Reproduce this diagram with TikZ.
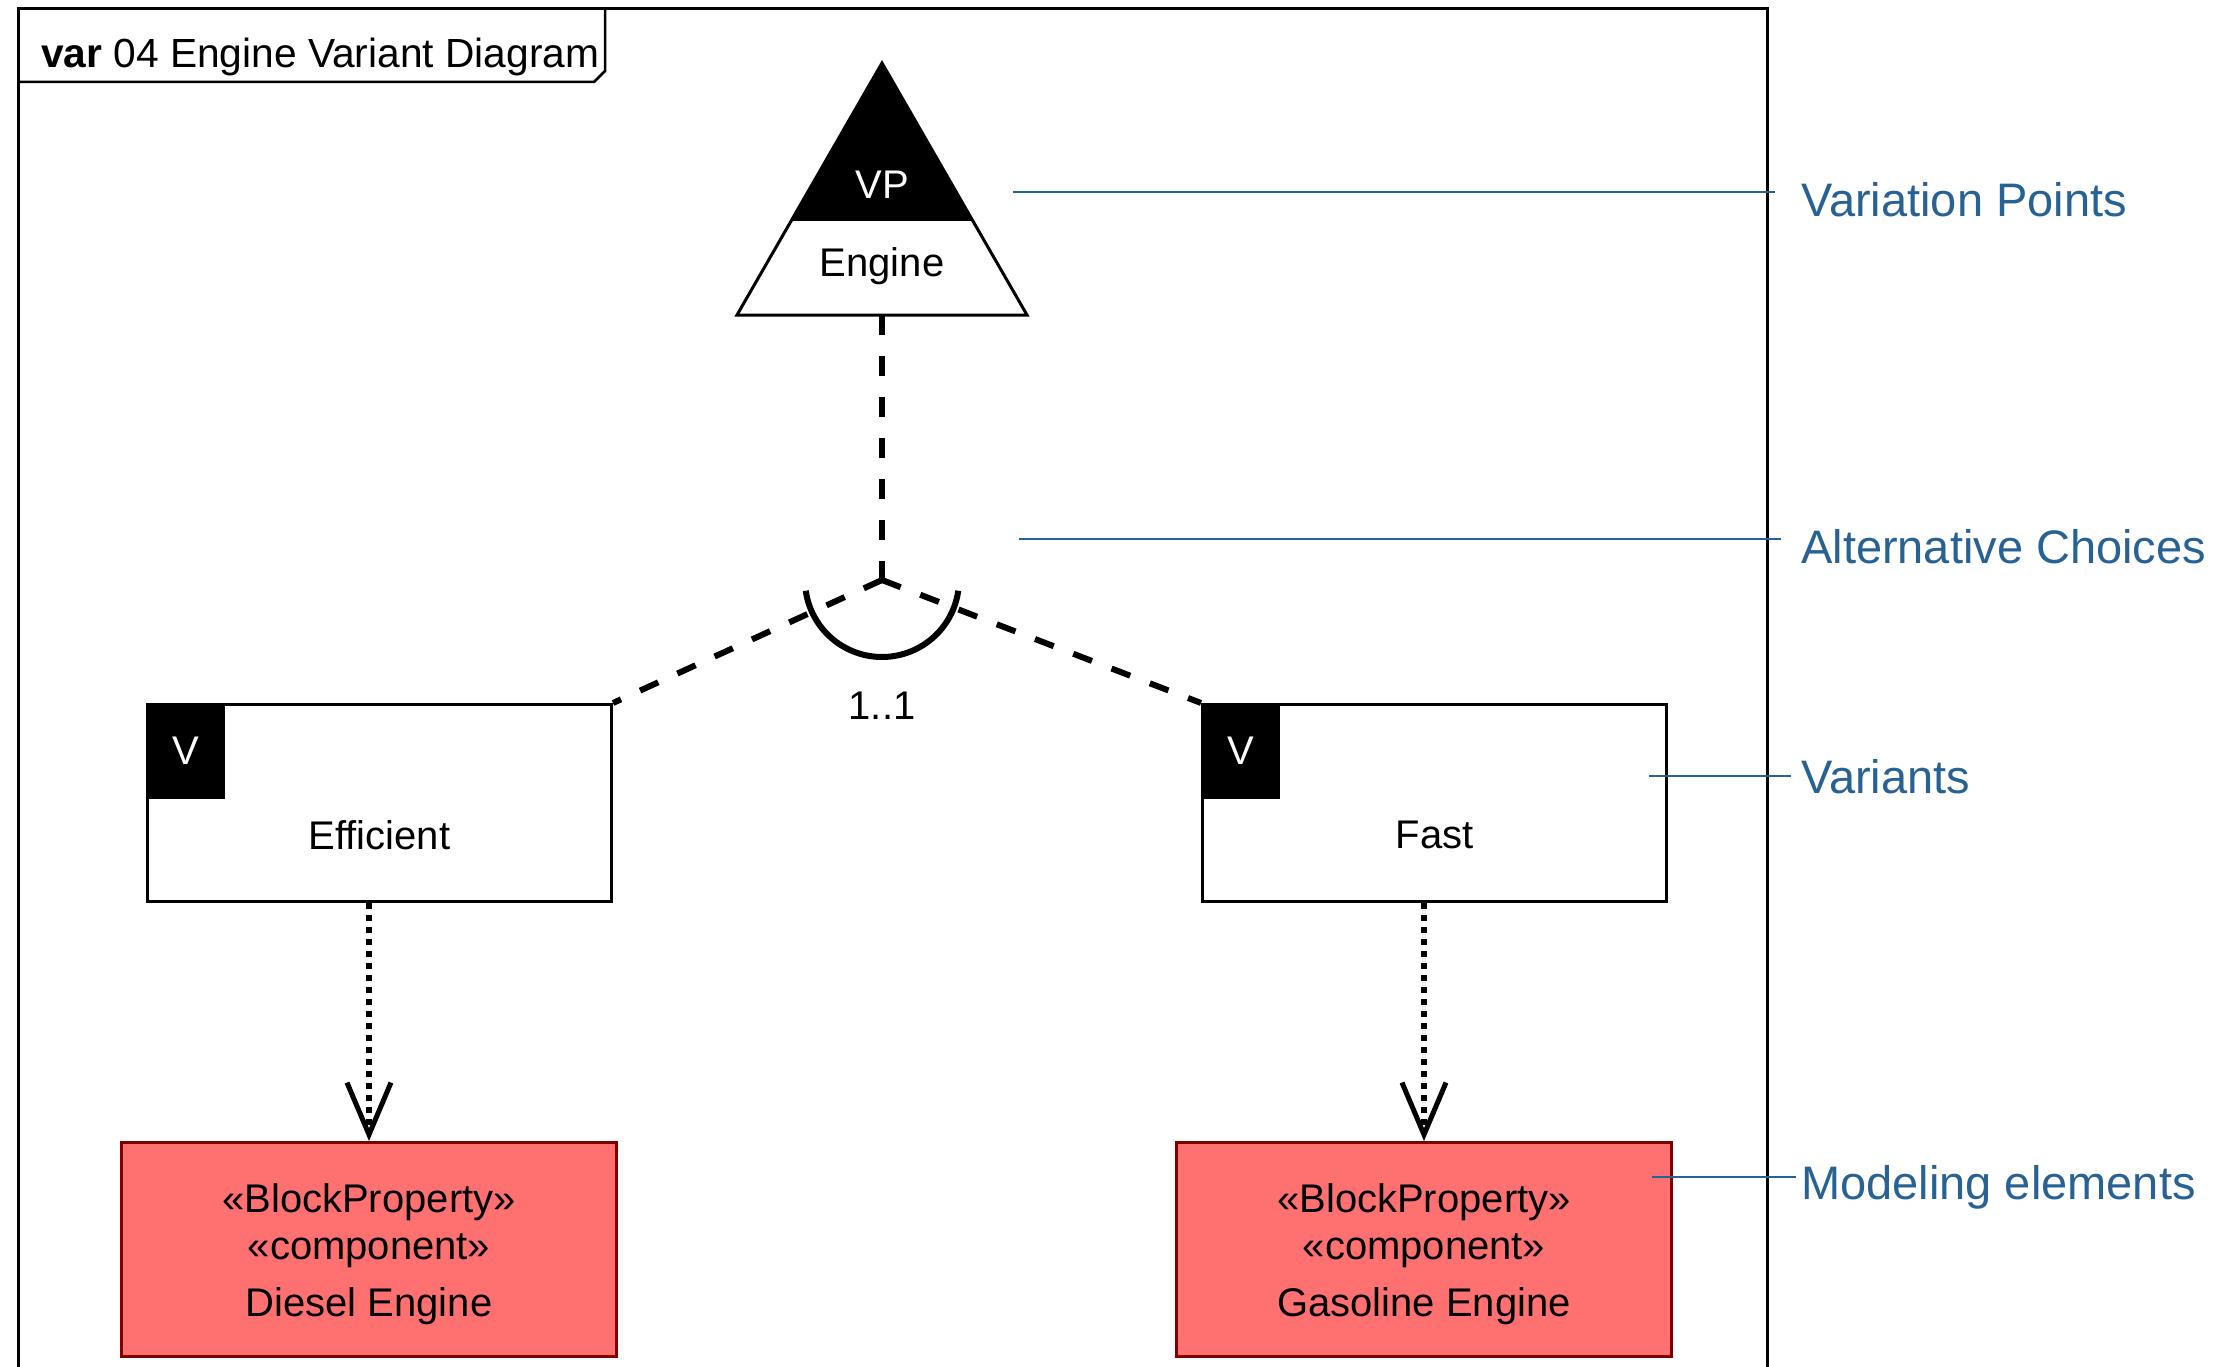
\documentclass[tikz,border=0pt]{standalone}
\usepackage{fontspec}
\setmainfont{Liberation Sans}
\usetikzlibrary{arrows.meta,calc}
\definecolor{annoblue}{RGB}{40,98,148}
\definecolor{elemred}{RGB}{255,112,112}
\definecolor{elemborder}{RGB}{128,0,0}
\begin{document}
\begin{tikzpicture}[x=1pt,y=-1pt,
  txt/.style={font=\fontsize{40}{52}\selectfont, inner sep=0pt},
  annotxt/.style={font=\fontsize{47}{56}\selectfont, text=annoblue, inner sep=0pt, anchor=base west},
  annoline/.style={draw=annoblue, line width=2.5pt},
  varbox/.style={draw=black, line width=3pt, fill=white, minimum width=464pt, minimum height=197pt, anchor=north west, inner sep=0pt},
  vtag/.style={fill=black, text=white, minimum width=79pt, minimum height=96pt, anchor=north west, inner sep=0pt, font=\fontsize{40}{48}\selectfont},
  elem/.style={draw=elemborder, fill=elemred, line width=3pt, minimum width=495pt, minimum height=214pt, anchor=north west, inner sep=0pt},
  elemtxt/.style={align=center, font=\fontsize{40}{47}\selectfont, inner sep=0pt},
  vpline/.style={line width=6pt, dash pattern=on 20pt off 21pt},
  realize/.style={line width=6pt, dash pattern=on 6pt off 6pt, -{Straight Barb[length=52pt,width=44pt,line width=5pt]}},
]
\useasboundingbox[fill=white] (0,0) rectangle (2231,1367);

% frame
\draw[line width=3pt] (18.5,1367) -- (18.5,8.5) -- (1767,8.5) -- (1767,1367);
\draw[line width=2.5pt] (18.5,82) -- (594,82) -- (605,71) -- (605,8.5);
\node[txt, anchor=base west, font=\fontsize{40.7}{48}\selectfont] (title) at (41,68) {\textbf{var} 04 Engine Variant Diagram};

% variation point triangle
\fill (882,63) -- (973,221) -- (791,221) -- cycle;
\draw[line width=3pt, line join=miter] (882,63) -- (1027,315) -- (737,315) -- cycle;
\node[txt, text=white] (vp) at (882,185) {VP};
\node[txt] (eng) at (882,266) {Engine};
\coordinate (vpbase) at (882,315);
\coordinate (j) at (882,580);

% variants
\node[varbox] (eff) at (146,703) {};
\node[vtag] (effv) at (eff.north west) {V};
\node[txt] (efflbl) at ($(eff.center)+(0,32)$) {Efficient};
\node[varbox] (fast) at (1201,703) {};
\node[vtag] (fastv) at (fast.north west) {V};
\node[txt] (fastlbl) at ($(fast.center)+(0,32)$) {Fast};

% alternative choice connectors
\draw[vpline] (vpbase) -- (j);
\draw[vpline] (j) -- (eff.north east);
\draw[vpline] (j) -- (fast.north west);
\draw[line width=6pt] plot[domain=8:172, samples=80] ({882+77*cos(\x)},{580+77*sin(\x)});
\node[txt] (mult) at (882,706) {1..1};

% modeling elements
\node[elem] (diesel) at (120,1141) {};
\node[elemtxt] (dieseltxt) at ($(diesel.center)+(0,5)$) {«BlockProperty»\\«component»\\[10pt]Diesel Engine};
\node[elem] (gas) at (1175,1141) {};
\node[elemtxt] (gastxt) at ($(gas.center)+(0,5)$) {«BlockProperty»\\«component»\\[10pt]Gasoline Engine};
\draw[realize] (eff.south -| diesel.north) -- (diesel.north);
\draw[realize] (fast.south -| gas.north) -- (gas.north);

% annotations
\coordinate (a1s) at (1013,192); \coordinate (a1e) at (1775,192);
\draw[annoline] (a1s) -- (a1e);
\node[annotxt] (a1) at (1801,217) {Variation Points};
\coordinate (a2s) at (1019,539); \coordinate (a2e) at (1781,539);
\draw[annoline] (a2s) -- (a2e);
\node[annotxt] (a2) at (1801,563) {Alternative Choices};
\coordinate (a3s) at (1649,776); \coordinate (a3e) at (1791,776);
\draw[annoline] (a3s) -- (a3e);
\node[annotxt] (a3) at (1801,793) {Variants};
\coordinate (a4s) at (1652,1177); \coordinate (a4e) at (1796,1177);
\draw[annoline] (a4s) -- (a4e);
\node[annotxt] (a4) at (1801,1199) {Modeling elements};
\end{tikzpicture}
\end{document}
